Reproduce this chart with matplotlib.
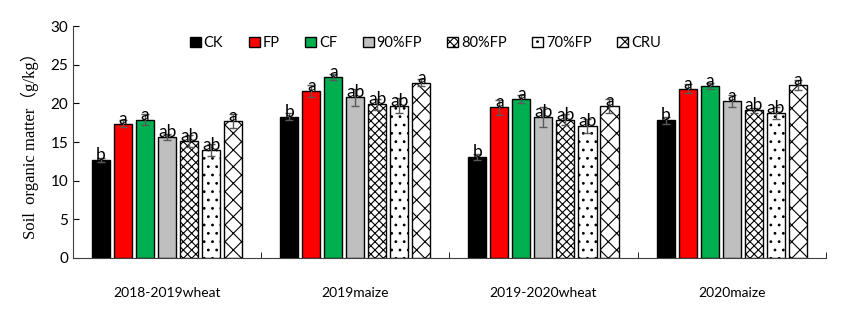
import numpy as np
import matplotlib
matplotlib.use("Agg")
import matplotlib.pyplot as plt

plt.rcParams['font.family'] = ['Lato', 'DejaVu Sans']
plt.rcParams['hatch.linewidth'] = 0.8

seasons = ["2018-2019wheat", "2019maize", "2019-2020wheat", "2020maize"]
treatments = ["CK", "FP", "CF", "90%FP", "80%FP", "70%FP", "CRU"]

# soil organic matter (g/kg), one list per treatment, in season order
ck = [12.7, 18.3, 13.1, 17.8]
fp = [17.4, 21.6, 19.5, 21.9]
cf = [17.9, 23.4, 20.6, 22.3]
fp90 = [15.7, 20.8, 18.3, 20.3]
fp80 = [15.1, 19.9, 17.9, 19.1]
fp70 = [14.0, 19.7, 17.1, 18.8]
cru = [17.7, 22.7, 19.7, 22.4]

ck_err = [0.3, 0.5, 0.4, 0.4]
fp_err = [0.5, 0.8, 1.0, 0.6]
cf_err = [0.7, 0.4, 0.5, 0.4]
fp90_err = [0.4, 1.1, 1.3, 0.8]
fp80_err = [0.8, 0.7, 0.7, 0.3]
fp70_err = [0.8, 1.0, 0.9, 0.8]
cru_err = [0.9, 0.5, 0.9, 0.6]

ck_sig = ["b", "b", "b", "b"]
fp_sig = ["a", "a", "a", "a"]
cf_sig = ["a", "a", "a", "a"]
fp90_sig = ["ab", "ab", "ab", "a"]
fp80_sig = ["ab", "ab", "ab", "ab"]
fp70_sig = ["ab", "ab", "ab", "ab"]
cru_sig = ["a", "a", "a", "a"]

values = [ck, fp, cf, fp90, fp80, fp70, cru]
errors = [ck_err, fp_err, cf_err, fp90_err, fp80_err, fp70_err, cru_err]
letters = [ck_sig, fp_sig, cf_sig, fp90_sig, fp80_sig, fp70_sig, cru_sig]

colors = ["black", "#ff0000", "#00b050", "#bfbfbf", "white", "white", "white"]
hatches = [None, None, None, None, "xxxx", "..", "xx"]

fig = plt.figure(figsize=(8.46, 3.15), dpi=100)
ax = fig.add_axes([0.0863, 0.181, 0.8897, 0.736])

x = np.arange(len(seasons))
step = 0.117
width = 0.096
for i, name in enumerate(treatments):
    pos = x + (i - 3) * step
    ax.bar(pos, values[i], width, color=colors[i], edgecolor="black",
           linewidth=1.0, hatch=hatches[i], label=name, zorder=2)
    ax.errorbar(pos, values[i], yerr=errors[i], fmt="none", ecolor="#595959",
                elinewidth=1.0, capsize=3, capthick=1.0, zorder=3)
    for xp, v, s in zip(pos, values[i], letters[i]):
        ax.text(xp, v, s, ha="center", va="baseline", fontsize=12.5, zorder=4)

ax.set_xlim(-0.5, 3.5)
ax.set_ylim(0, 30)
ax.set_yticks(range(0, 31, 5))
ax.set_xticks(x)
ax.set_xticklabels(seasons, fontsize=10)
ax.set_xticks(np.arange(0.5, 3.6, 1), minor=True)
ax.tick_params(axis="x", which="major", length=0, pad=21)
ax.tick_params(axis="x", which="minor", direction="in", length=4)
ax.tick_params(axis="y", direction="in", length=4, labelsize=11)
ax.spines["top"].set_visible(False)
ax.spines["right"].set_visible(False)
ax.spines["left"].set_color("#404040")
ax.spines["bottom"].set_color("#404040")

ax.set_ylabel("Soil  organic matter（g/kg）", fontsize=12,
              family=["Liberation Serif", "Noto Sans CJK SC"], labelpad=8)

fig.legend(loc="center", bbox_to_anchor=(0.503, 0.863), ncol=7, frameon=False,
           fontsize=10.5, handlelength=0.75, handleheight=0.75,
           handletextpad=0.2, columnspacing=1.75)

fig.savefig("out.png", dpi=100)
